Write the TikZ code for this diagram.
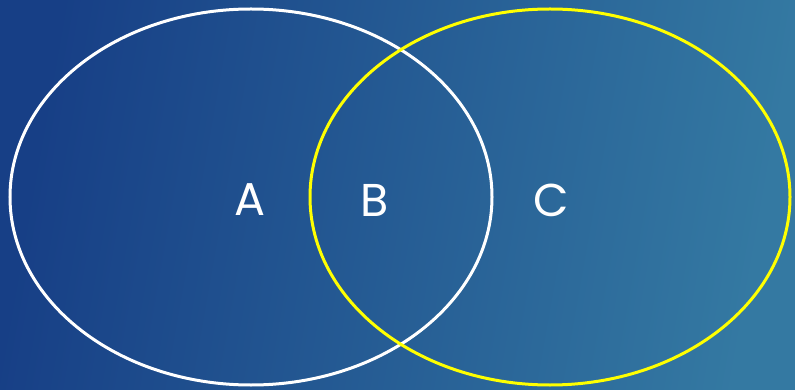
\documentclass[tikz,border=0pt]{standalone}
\usepackage{fontspec}
\setmainfont{Poppins}
\definecolor{bgleft}{HTML}{173F86}
\definecolor{bgright}{HTML}{3479A2}
\definecolor{vyellow}{HTML}{FFFF00}
\begin{document}
\begin{tikzpicture}[x=1pt,y=-1pt,
  setring/.style={line width=3pt},
  lbl/.style={text=white,font=\fontsize{46}{46}\selectfont,inner sep=0pt,anchor=center}]
\useasboundingbox (0,0) rectangle (795,390);
\shade[left color=bgleft,right color=bgright,shading angle=80] (0,0) rectangle (795,390);
\draw[setring,white] (251,197) ellipse [x radius=241,y radius=188];
\draw[setring,vyellow] (550,197) ellipse [x radius=240,y radius=188];
\node[lbl] (a) at (250,200) {A};
\node[lbl] (b) at (375,200) {B};
\node[lbl] (c) at (551,200) {C};
\end{tikzpicture}
\end{document}
